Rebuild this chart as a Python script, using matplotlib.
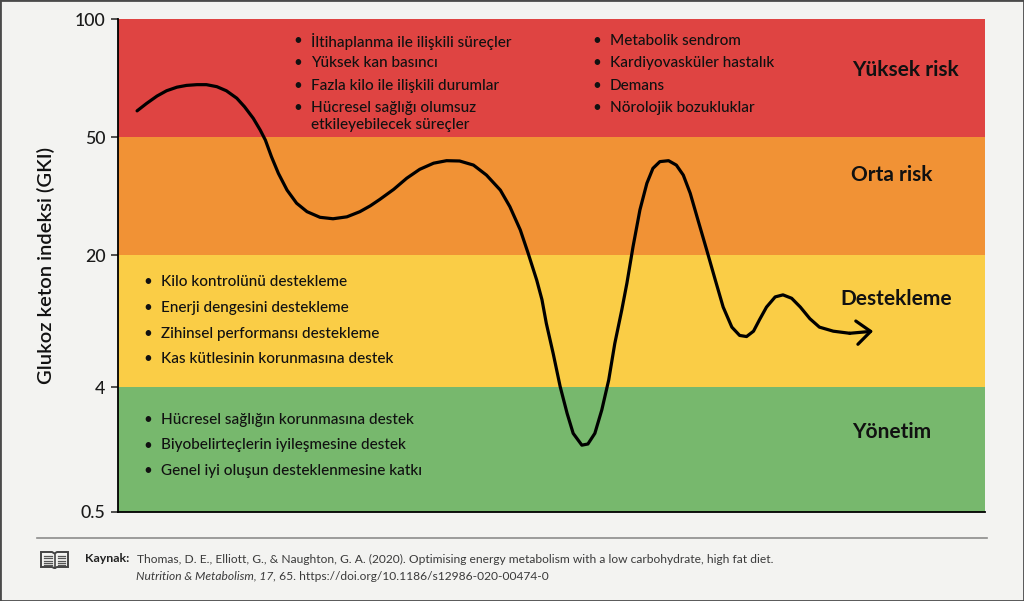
import numpy as np
import matplotlib.pyplot as plt
from matplotlib.lines import Line2D
from matplotlib.patches import Rectangle, Polygon

plt.rcParams['font.family'] = ['Lato', 'DejaVu Sans']

# --- data -------------------------------------------------------------
# GKI band edges (bottom -> top) and the colours of the bands
band_edges = [0.5, 4, 20, 50, 100]
band_colors = ['#77b86d', '#facd46', '#f19235', '#df4442']
band_names = ['Yönetim', 'Destekleme', 'Orta risk', 'Yüksek risk']
tick_labels = ['0.5', '4', '20', '50', '100']

# illustrative GKI path over time (arbitrary time units 0-100)
t = [2.2, 3.3, 4.5, 5.6, 6.8, 7.9, 9.1, 10.2, 11.4, 12.5, 13.7, 14.6, 15.6,
     16.4, 17.0, 17.7, 18.5, 19.5, 20.6, 21.8, 23.3, 24.8, 26.4, 27.9, 29.1,
     30.2, 31.8, 33.3, 34.8, 36.4, 37.9, 39.4, 41.0, 42.5, 44.1, 45.2, 46.4,
     47.3, 48.3, 48.9, 49.4, 50.2, 51.0, 51.8, 52.5, 53.5, 54.2, 55.0, 55.8,
     56.6, 57.3, 58.1, 58.7, 59.4, 60.2, 61.0, 61.7, 62.5, 63.5, 64.4, 65.2,
     66.0, 66.9, 67.9, 68.9, 69.8, 70.8, 71.7, 72.5, 73.3, 74.0, 74.8, 75.8,
     76.7, 77.7, 78.7, 79.8, 80.9, 82.5, 84.4, 87.1]
gki = [58.3, 60.9, 63.6, 65.6, 67.0, 67.7, 68.0, 68.0, 67.2, 65.6, 62.8,
       59.7, 55.8, 52.1, 48.8, 42.9, 37.7, 33.1, 29.9, 28.0, 26.8, 26.5,
       26.9, 28.0, 29.3, 30.8, 33.3, 36.3, 38.9, 40.8, 41.6, 41.5, 40.2,
       37.2, 33.1, 29.1, 24.3, 20.3, 14.7, 11.6, 8.7, 6.0, 4.02, 2.58, 1.85,
       1.52, 1.55, 1.85, 2.73, 4.36, 6.8, 10.2, 14.2, 21.3, 28.4, 34.9, 39.2,
       41.3, 41.6, 40.2, 37.2, 32.3, 26.2, 20.8, 14.7, 10.6, 8.3, 7.5, 7.4,
       7.9, 9.1, 10.6, 12.0, 12.3, 11.8, 10.6, 9.2, 8.3, 7.9, 7.7, 7.9]

red_left = ['İltihaplanma ile ilişkili süreçler', 'Yüksek kan basıncı',
            'Fazla kilo ile ilişkili durumlar',
            'Hücresel sağlığı olumsuz\netkileyebilecek süreçler']
red_right = ['Metabolik sendrom', 'Kardiyovasküler hastalık', 'Demans',
             'Nörolojik bozukluklar']
yellow_items = ['Kilo kontrolünü destekleme', 'Enerji dengesini destekleme',
                'Zihinsel performansı destekleme',
                'Kas kütlesinin korunmasına destek']
green_items = ['Hücresel sağlığın korunmasına destek',
               'Biyobelirteçlerin iyileşmesine destek',
               'Genel iyi oluşun desteklenmesine katkı']

# --- figure -----------------------------------------------------------
W, H = 1024, 601
fig = plt.figure(figsize=(W / 100, H / 100), dpi=100, facecolor='#f3f3f1')
ax = fig.add_axes([118 / W, 1 - 512 / H, 867 / W, 493 / H])

# the bands are not evenly spaced in log GKI, so use a piecewise scale
scale_pos = [0, 125, 257, 375, 493]
log_edges = np.log10(band_edges)


def fwd(v):
    v = np.clip(np.asarray(v, dtype=float), 1e-3, None)
    return np.interp(np.log10(v), log_edges, scale_pos)


def inv(p):
    return 10 ** np.interp(p, scale_pos, log_edges)


ax.set_yscale('function', functions=(fwd, inv))
ax.set_ylim(band_edges[0], band_edges[-1])
ax.set_xlim(0, 100)

for i in range(4):
    ax.axhspan(band_edges[i], band_edges[i + 1], color=band_colors[i], lw=0, zorder=0)

ax.plot(t[:-1], gki[:-1], color='black', lw=2.3, solid_capstyle='round',
        solid_joinstyle='round', zorder=3)
ax.annotate('', xy=(t[-1], gki[-1]), xytext=(t[-2], gki[-2]),
            arrowprops=dict(arrowstyle='->,head_length=0.5,head_width=0.42',
                            lw=2.3, color='black', mutation_scale=20,
                            shrinkA=0, shrinkB=0), zorder=3)

ax.set_yticks(band_edges)
ax.set_yticklabels(tick_labels, fontsize=12.8, color='#1a1a1a', fontweight='medium')
ax.set_xticks([])
ax.tick_params(axis='y', length=5, width=1.2, color='#333333', pad=4)
for s in ['top', 'right']:
    ax.spines[s].set_visible(False)
ax.spines['left'].set_linewidth(1.3)
ax.spines['bottom'].set_linewidth(1.3)
ax.set_ylabel('Glukoz keton indeksi (GKI)', fontsize=14.5, color='#111111',
              fontweight='semibold', labelpad=14)


def px(x, y):
    # pixel position in the picture -> axes fraction
    return (x - 118) / 867, (512 - y) / 493


def bullets(items, xb, y0, step, fs=11):
    y = y0
    for it in items:
        lines = it.split('\n')
        ax.text(*px(xb, y), '•', transform=ax.transAxes, fontsize=fs,
                va='center', ha='center', color='#111111')
        for k, ln in enumerate(lines):
            ax.text(*px(xb + 13, y + k * 17), ln, transform=ax.transAxes,
                    fontsize=fs, va='center', ha='left', color='#111111',
                    fontweight='medium')
        y += step


bullets(red_left, 298, 41, 22.3)
bullets(red_right, 597, 41, 22.3)
bullets(yellow_items, 148, 282, 25.8)
bullets(green_items, 148, 420, 25.5)

label_pos = [(892, 432), (896, 299), (892, 175), (906, 70)]
for name, (x, y) in zip(band_names, label_pos):
    ax.text(*px(x, y), name, transform=ax.transAxes, fontsize=15,
            fontweight='bold', ha='center', va='center', color='#111111')

# --- footer -----------------------------------------------------------
fig.add_artist(Line2D([37 / W, 987 / W], [1 - 538 / H] * 2, color='#8c8c8c', lw=1.2))

fs_foot = 8.65
fig.text(85 / W, 1 - 559 / H, 'Kaynak:', fontsize=fs_foot + 0.3, fontweight='bold',
         va='center', color='#222222')
fig.text(137 / W, 1 - 559 / H,
         'Thomas, D. E., Elliott, G., & Naughton, G. A. (2020). Optimising energy '
         'metabolism with a low carbohydrate, high fat diet.',
         fontsize=fs_foot, va='center', color='#3a3a3a')
it_txt = fig.text(136 / W, 1 - 576 / H, 'Nutrition & Metabolism, 17,', fontsize=fs_foot,
                  style='italic', va='center', color='#3a3a3a')
ax.annotate(' 65. https://doi.org/10.1186/s12986-020-00474-0', xy=(1, 0.5),
            xycoords=it_txt, fontsize=fs_foot, va='center', ha='left', color='#3a3a3a',
            annotation_clip=False)

# small open-book icon
iax = fig.add_axes([40 / W, 1 - 569 / H, 29 / W, 19 / H])
iax.set_xlim(0, 29)
iax.set_ylim(0, 19)
iax.axis('off')
iax.add_patch(Polygon([[1, 2], [1, 17], [12, 17], [14.5, 15.5], [17, 17], [28, 17],
                       [28, 2], [17, 2], [14.5, 0.8], [12, 2]], closed=True,
                      fill=False, ec='#444444', lw=1.4))
iax.plot([14.5, 14.5], [1, 15.5], color='#444444', lw=1.2)
for yy in [13.5, 11, 8.5, 6, 3.8]:
    iax.plot([4, 11.5], [yy, yy], color='#555555', lw=0.9)
    iax.plot([17.5, 25], [yy, yy], color='#555555', lw=0.9)

fig.patches.append(Rectangle((0, 0), 1, 1, transform=fig.transFigure, fill=False,
                             ec='#4a4a4a', lw=2))

fig.savefig('out.png', dpi=100, facecolor=fig.get_facecolor())
